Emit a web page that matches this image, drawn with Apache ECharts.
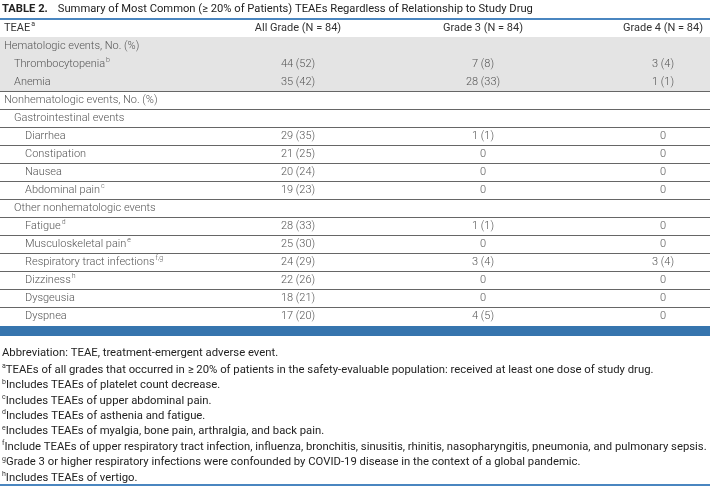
<!DOCTYPE html>
<html>
<head>
<meta charset="utf-8">
<script src="https://cdn.jsdelivr.net/npm/echarts@6/dist/echarts.min.js"></script>
<style>html,body{margin:0;padding:0;background:#fff}#c{width:710px;height:488px}</style>
</head>
<body>
<div id="c"></div>
<script>
// ---- data ----
const titleBold = "TABLE 2.";
const titleText = "Summary of Most Common (≥ 20% of Patients) TEAEs Regardless of Relationship to Study Drug";
const columnHeaders = ["TEAE", "All Grade (N = 84)", "Grade 3 (N = 84)", "Grade 4 (N = 84)"];
const headerNote = "a";
const rowLabels = ["Hematologic events, No. (%)", "Thrombocytopenia", "Anemia", "Nonhematologic events, No. (%)",
  "Gastrointestinal events", "Diarrhea", "Constipation", "Nausea", "Abdominal pain",
  "Other nonhematologic events", "Fatigue", "Musculoskeletal pain", "Respiratory tract infections",
  "Dizziness", "Dysgeusia", "Dyspnea"];
const rowNotes = ["", "b", "", "", "", "", "", "", "c", "", "d", "e", "f,g", "h", "", ""];
const rowLevels = [0, 1, 1, 0, 1, 2, 2, 2, 2, 1, 2, 2, 2, 2, 2, 2];
const rowShaded = [1, 1, 1, 0, 0, 0, 0, 0, 0, 0, 0, 0, 0, 0, 0, 0];
const allGrade = ["", "44 (52)", "35 (42)", "", "", "29 (35)", "21 (25)", "20 (24)", "19 (23)", "", "28 (33)", "25 (30)", "24 (29)", "22 (26)", "18 (21)", "17 (20)"];
const grade3 = ["", "7 (8)", "28 (33)", "", "", "1 (1)", "0", "0", "0", "", "1 (1)", "0", "3 (4)", "0", "0", "4 (5)"];
const grade4 = ["", "3 (4)", "1 (1)", "", "", "0", "0", "0", "0", "", "0", "0", "3 (4)", "0", "0", "0"];
const footnoteMarks = ["", "a", "b", "c", "d", "e", "f", "g", "h"];
const footnotes = [
  "Abbreviation: TEAE, treatment-emergent adverse event.",
  "TEAEs of all grades that occurred in ≥ 20% of patients in the safety-evaluable population: received at least one dose of study drug.",
  "Includes TEAEs of platelet count decrease.",
  "Includes TEAEs of upper abdominal pain.",
  "Includes TEAEs of asthenia and fatigue.",
  "Includes TEAEs of myalgia, bone pain, arthralgia, and back pain.",
  "Include TEAEs of upper respiratory tract infection, influenza, bronchitis, sinusitis, rhinitis, nasopharyngitis, pneumonia, and pulmonary sepsis.",
  "Grade 3 or higher respiratory infections were confounded by COVID-19 disease in the context of a global pandemic.",
  "Includes TEAEs of vertigo."
];

// ---- layout ----
const W = 710;
const FONT = "Roboto";
const colCenters = [298, 483, 663];
const indentX = [4, 14, 25];
const nRows = rowLabels.length + 1; // + header
const tableTop = 19, rowH = 18;
const tableBottom = tableTop + nRows * rowH;

const chart = echarts.init(document.getElementById('c'), null, {renderer: 'canvas'});

function renderRow(params, api) {
  const i = api.value(0);
  const y0 = api.coord([0, i])[1];
  const y1 = api.coord([0, i + 1])[1];
  const yc = (y0 + y1) / 2;
  const children = [];
  const isHeader = i === 0;
  const r = i - 1;
  if (!isHeader && rowShaded[r]) {
    children.push({type: 'rect', shape: {x: 0, y: y0, width: W, height: y1 - y0}, style: {fill: '#e4e4e4'}});
  }
  if (i < nRows - 1) {
    children.push({type: 'line', shape: {x1: 0, y1: Math.round(y1) + 0.5, x2: W, y2: Math.round(y1) + 0.5},
      style: {stroke: '#666666', lineWidth: 1}});
  }
  const mainStyle = isHeader ? {fontWeight: 400, fill: '#333'} : {fontWeight: 300, fill: '#555'};
  const label = isHeader ? columnHeaders[0] : rowLabels[r];
  const note = isHeader ? headerNote : rowNotes[r];
  const lx = isHeader ? indentX[0] : indentX[rowLevels[r]];
  children.push({
    type: 'text', x: lx, y: yc,
    style: {
      text: '{m|' + label + '}' + (note ? '{s|' + note + '}' : ''),
      verticalAlign: 'middle', align: 'left',
      rich: {
        m: Object.assign({fontFamily: FONT, fontSize: 11, lineHeight: 14}, mainStyle),
        s: Object.assign({fontFamily: FONT, fontSize: 7, lineHeight: 14, verticalAlign: 'top', padding: [0, 0, 0, 1]}, mainStyle)
      }
    }
  });
  const vals = isHeader ? columnHeaders.slice(1) : [allGrade[r], grade3[r], grade4[r]];
  vals.forEach((v, k) => {
    if (!v) return;
    const xx = api.coord([colCenters[k], i])[0];
    children.push({type: 'text', x: xx, y: yc,
      style: Object.assign({text: v, align: 'center', verticalAlign: 'middle', fontFamily: FONT, fontSize: 11}, mainStyle)});
  });
  return {type: 'group', children};
}

const rowData = [];
for (let i = 0; i < nRows; i++) rowData.push([i]);

const footGraphics = footnotes.map((t, k) => ({
  type: 'text', left: 2, top: 347.5 + k * 15.4,
  style: {
    text: (footnoteMarks[k] ? '{s|' + footnoteMarks[k] + '}' : '') + '{m|' + t + '}',
    rich: {
      m: {fontFamily: FONT, fontSize: 11.3, fill: '#222', lineHeight: 14},
      s: {fontFamily: FONT, fontSize: 7, fill: '#333', lineHeight: 14, verticalAlign: 'top'}
    }
  }
}));

chart.setOption({
  animation: false,
  title: {
    left: 2, top: 0, padding: 0,
    text: '{b|' + titleBold + '}  {n|' + titleText + '}',
    textStyle: {rich: {
      b: {fontFamily: FONT, fontWeight: 700, fontSize: 11.2, color: '#222'},
      n: {fontFamily: FONT, fontWeight: 400, fontSize: 11.2, color: '#222'}
    }}
  },
  grid: {left: 0, right: 0, top: tableTop, height: nRows * rowH},
  xAxis: {type: 'value', min: 0, max: W, show: false},
  yAxis: {type: 'value', min: 0, max: nRows, inverse: true, show: false},
  series: [{type: 'custom', renderItem: renderRow, data: rowData, clip: false}],
  graphic: [
    {type: 'rect', shape: {x: 0, y: tableTop - 1, width: W, height: 2}, style: {fill: '#4a86c0'}},
    {type: 'rect', shape: {x: 0, y: tableBottom + 1, width: W, height: 10}, style: {fill: '#3675ae'}},
    {type: 'rect', shape: {x: 0, y: 484, width: W, height: 2}, style: {fill: '#4a86c0'}}
  ].concat(footGraphics)
});
</script>
</body>
</html>
